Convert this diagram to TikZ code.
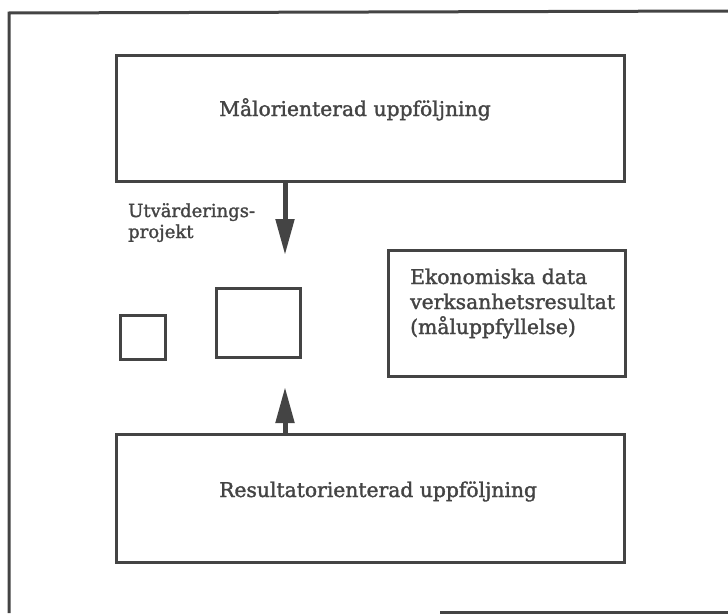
\documentclass[tikz,border=0pt]{standalone}
\usepackage{fontspec}
\setmainfont{DejaVu Serif}[FakeBold=1.6]
\usetikzlibrary{arrows.meta}
\definecolor{ink}{HTML}{444444}
\begin{document}
\begin{tikzpicture}[x=1pt,y=-1pt,
  frame/.style={draw=ink,line width=3pt},
  box/.style={draw=ink,line width=3pt,rectangle,inner sep=0pt},
  txt/.style={text=ink,font=\fontsize{20.3}{25}\selectfont,inner sep=0pt,anchor=base west,align=left},
  small/.style={text=ink,font=\fontsize{18}{21}\selectfont,inner sep=0pt,anchor=base west,align=left},
  flow/.style={draw=ink,line width=5pt,-{Triangle[length=36pt,width=18pt]},shorten >=0pt}]
\useasboundingbox (0,0) rectangle (728,613);

% outer frame, open on the right
\draw[frame] (728,11) -- (9,13) -- (9,613);
\draw[frame] (440,612) -- (728,612);

% main boxes
\node[box,minimum width=508pt,minimum height=126pt] (goal) at (370,118) {};
\node[box,minimum width=508pt,minimum height=128pt] (result) at (370,498) {};
\node[box,minimum width=45pt,minimum height=44pt] (sq) at (142.5,337) {};
\node[box,minimum width=84pt,minimum height=69pt] (proj) at (258,322.5) {};
\node[box,minimum width=237pt,minimum height=126pt] (econ) at (506.5,313) {};

% texts (multi-line nodes are placed by the baseline of their last line)
\node[txt] (goaltxt) at (219,116) {Målorienterad uppföljning};
\node[txt] (resulttxt) at (219,497) {Resultatorienterad uppföljning};
\node[small] (evaltxt) at (128,238) {Utvärderings-\\projekt};
\node[txt] (econtxt) at (410,334) {Ekonomiska data\\verksanhetsresultat\\(måluppfyllelse)};

% arrows
\coordinate (downtip) at (285,255);
\coordinate (uptip) at (285,387);
\draw[flow] (goal.south -| downtip) -- (downtip);
\draw[flow] (result.north -| uptip) -- (uptip);
\end{tikzpicture}
\end{document}
